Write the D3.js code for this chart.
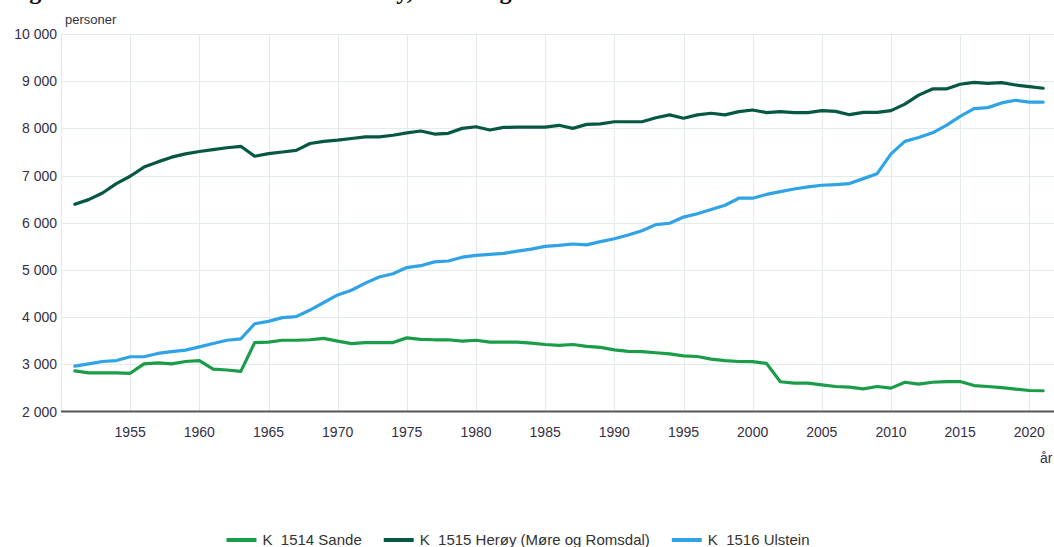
<!DOCTYPE html>
<html>
<head>
<meta charset="utf-8">
<script src="https://cdn.jsdelivr.net/npm/d3@7"></script>
<style>
    body { margin: 0; background: #fff; }
    svg { display: block; font-family: "Liberation Sans", Arial, sans-serif; }
</style>
</head>
<body>
<div id="chart"></div>
<script>

// Years 1951..2021, one value per year for each municipality
var firstYear = 1951, lastYear = 2021;
var years = d3.range(firstYear, lastYear + 1);

var sande = [2860, 2820, 2820, 2820, 2810, 3010, 3030, 3010, 3060, 3080,
    2900, 2880, 2850, 3460, 3470, 3510, 3510, 3520, 3550, 3490,
    3440, 3460, 3460, 3460, 3560, 3530, 3520, 3520, 3490, 3510,
    3470, 3470, 3470, 3450, 3420, 3400, 3420, 3380, 3360, 3305,
    3275, 3270, 3245, 3220, 3180, 3165, 3110, 3080, 3060, 3058,
    3020, 2630, 2600, 2600, 2565, 2530, 2515, 2480, 2530, 2495,
    2620, 2580, 2620, 2635, 2635, 2550, 2530, 2505, 2475, 2445, 2440];

var heroy = [6390, 6490, 6630, 6830, 6985, 7180, 7290, 7390, 7460, 7510,
    7550, 7590, 7620, 7410, 7465, 7500, 7535, 7680, 7725, 7750,
    7785, 7820, 7820, 7855, 7905, 7945, 7880, 7895, 8000, 8035,
    7965, 8020, 8025, 8025, 8025, 8065, 8000, 8085, 8095, 8140,
    8140, 8140, 8225, 8285, 8215, 8285, 8320, 8285, 8355, 8390,
    8335, 8355, 8335, 8335, 8375, 8360, 8290, 8340, 8340, 8375,
    8515, 8705, 8835, 8835, 8935, 8975, 8955, 8970, 8920, 8885, 8850];

var ulstein = [2960, 3010, 3060, 3080, 3160, 3160, 3230, 3270, 3300, 3370,
    3440, 3510, 3540, 3860, 3910, 3990, 4010, 4150, 4310, 4470,
    4570, 4720, 4850, 4920, 5050, 5090, 5170, 5190, 5270, 5310,
    5330, 5350, 5400, 5440, 5500, 5520, 5550, 5530, 5600, 5660,
    5740, 5830, 5960, 5990, 6120, 6190, 6280, 6370, 6520, 6520,
    6600, 6660, 6715, 6760, 6795, 6810, 6830, 6935, 7040, 7460,
    7725, 7805, 7905, 8065, 8255, 8420, 8440, 8540, 8595, 8555, 8555];

var seriesNames = ["K_1514 Sande", "K_1515 Herøy (Møre og Romsdal)", "K_1516 Ulstein"];
var seriesColors = ["#1a9d49", "#075745", "#2fa3e6"];
var yTicks = [2000, 3000, 4000, 5000, 6000, 7000, 8000, 9000, 10000];
var xTicks = [1955, 1960, 1965, 1970, 1975, 1980, 1985, 1990, 1995, 2000, 2005, 2010, 2015, 2020];

var titleText = "Figur 2 Folketalet i kommunane Herøy, Sande og Ulstein";

var W = 1054, H = 547;

var svg = d3.select("#chart").append("svg")
    .attr("width", W)
    .attr("height", H);

// Scales: the plot runs off the right edge of the picture
var x = d3.scaleLinear().domain([1950, 2022]).range([61, 1057]);
var y = d3.scaleLinear().domain([2000, 10000]).range([411.5, 34]);

var fmt = function (d) { return d3.format(",")(d).replace(/,/g, " "); };

// Title, mostly above the top edge (only descenders show)
svg.append("text")
    .attr("x", 8)
    .attr("y", -1)
    .style("font-family", "'Liberation Serif', 'Times New Roman', serif")
    .style("font-weight", "bold")
    .style("font-size", "24px")
    .attr("fill", "#000")
    .text(titleText);

// Grid
svg.append("g")
    .selectAll("line.hgrid")
    .data(yTicks.slice(1))
    .enter().append("line")
    .attr("x1", 61).attr("x2", W)
    .attr("y1", function (d) { return Math.round(y(d)) + 0.5; })
    .attr("y2", function (d) { return Math.round(y(d)) + 0.5; })
    .attr("stroke", "#e4ebeb");

svg.append("g")
    .selectAll("line.vgrid")
    .data([1950].concat(xTicks))
    .enter().append("line")
    .attr("x1", function (d) { return Math.round(x(d)) + 0.5; })
    .attr("x2", function (d) { return Math.round(x(d)) + 0.5; })
    .attr("y1", y(10000)).attr("y2", y(2000))
    .attr("stroke", "#e4ebeb");

// Y tick labels
svg.append("g")
    .selectAll("text")
    .data(yTicks)
    .enter().append("text")
    .attr("x", 57)
    .attr("y", function (d) { return y(d) + 5; })
    .attr("text-anchor", "end")
    .style("font-size", "14px")
    .attr("fill", "#352f45")
    .text(fmt);

svg.append("text")
    .attr("x", 65)
    .attr("y", 24)
    .style("font-size", "13px")
    .attr("fill", "#352f45")
    .text("personer");

// X axis line and labels
svg.append("line")
    .attr("x1", 61).attr("x2", W)
    .attr("y1", y(2000)).attr("y2", y(2000))
    .attr("stroke", "#555")
    .attr("stroke-width", 2);

svg.append("g")
    .selectAll("text")
    .data(xTicks)
    .enter().append("text")
    .attr("x", function (d) { return x(d); })
    .attr("y", 437)
    .attr("text-anchor", "middle")
    .style("font-size", "14px")
    .attr("fill", "#352f45")
    .text(function (d) { return d; });

svg.append("text")
    .attr("x", 1040)
    .attr("y", 463)
    .style("font-size", "14px")
    .attr("fill", "#352f45")
    .text("år");

// Lines
var line = d3.line()
    .x(function (d, i) { return x(years[i]); })
    .y(function (d) { return y(d); });

[sande, heroy, ulstein].forEach(function (values, i) {
    svg.append("path")
        .datum(values)
        .attr("d", line)
        .attr("fill", "none")
        .attr("stroke", seriesColors[i])
        .attr("stroke-width", 3.2)
        .attr("stroke-linejoin", "round")
        .attr("stroke-linecap", "round");
});

// Legend, centred below the plot
var legend = svg.append("g");
var cursor = 0;
seriesNames.forEach(function (name, i) {
    var item = legend.append("g").attr("transform", "translate(" + cursor + ",0)");
    item.append("line")
        .attr("x1", 0).attr("x2", 30)
        .attr("y1", 540).attr("y2", 540)
        .attr("stroke", seriesColors[i])
        .attr("stroke-width", 4);
    var t = item.append("text")
        .attr("x", 36)
        .attr("y", 545)
        .style("font-size", "15px")
        .attr("fill", "#333")
        .text(name);
    cursor += 36 + t.node().getComputedTextLength() + 22;
});
cursor -= 22;
legend.attr("transform", "translate(" + (518 - cursor / 2) + ",0)");

</script>
</body>
</html>
